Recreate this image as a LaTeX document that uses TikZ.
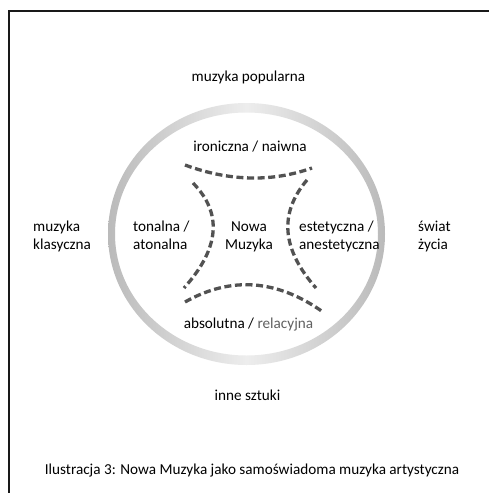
\documentclass[tikz,border=0pt]{standalone}
\usepackage{fontspec}
\setmainfont{Carlito}
\begin{document}
\begin{tikzpicture}[x=1pt,y=-1pt,
  lbl/.style={inner sep=0pt, font=\fontsize{15.2}{18.5}\selectfont, text=black},
  arcline/.style={draw=black!68, line width=3.3pt, dash pattern=on 7pt off 3.6pt}]
\useasboundingbox (0,0) rectangle (489,493);
\fill[white] (0,0) rectangle (489,493);
% frame
\draw[line width=2pt, black!90] (489,10.5) -- (9,10.5) -- (9,493);
% ring
\shade[even odd rule, left color=black!27, right color=black!27, middle color=black!7]
  (246.5,234) ellipse [x radius=138.5, y radius=131]
  (246.5,234) ellipse [x radius=131.5, y radius=121.5];
% dashed arcs
\draw[arcline] (185,165) .. controls (229.3,181.3) and (271.7,182.3) .. (312,168);
\draw[arcline] (193,183) .. controls (222.7,213.3) and (219.7,248.3) .. (184,288);
\draw[arcline] (307,180) .. controls (278.7,213.3) and (281.7,249.3) .. (316,288);
\draw[arcline] (185,302) .. controls (231,276) and (277,279.3) .. (323,312);
% labels
\node[lbl, anchor=base] (pop) at (248.5,81) {muzyka popularna};
\node[lbl, anchor=base] (iron) at (250,151) {ironiczna / naiwna};
\node[lbl, anchor=base west, align=left] (ton) at (133,249.5) {tonalna /\\atonalna};
\node[lbl, anchor=base, align=center] (nm) at (249,249.5) {Nowa\\Muzyka};
\node[lbl, anchor=base west, align=left] (est) at (299,249.5) {estetyczna /\\anestetyczna};
\node[lbl, anchor=base] (abs) at (248.5,328) {absolutna / \textcolor{black!62}{relacyjna}};
\node[lbl, anchor=base west, align=left] (klas) at (33,249.5) {muzyka\\klasyczna};
\node[lbl, anchor=base west, align=left] (swiat) at (418,249.5) {świat\\życia};
\node[lbl, anchor=base] (inne) at (247.5,400) {inne sztuki};
\node[lbl, anchor=base] (cap) at (252,474) {Ilustracja 3: Nowa Muzyka jako samoświadoma muzyka artystyczna};
\end{tikzpicture}
\end{document}
